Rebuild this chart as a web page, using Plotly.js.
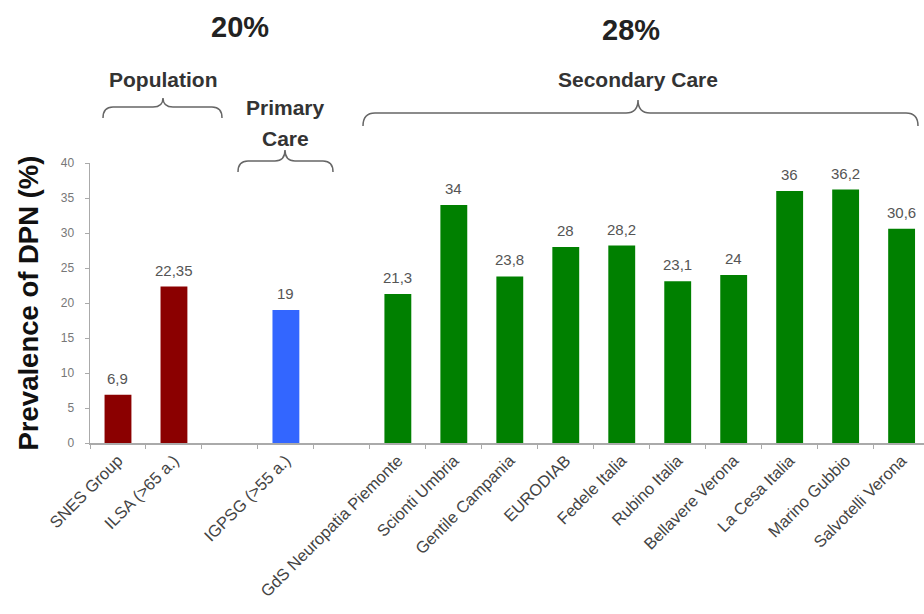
<!DOCTYPE html>
<html>
<head>
<meta charset="utf-8">
<script src="https://cdn.plot.ly/plotly-3.0.1.min.js"></script>
<style>html,body{margin:0;padding:0;background:#fff;}</style>
</head>
<body>
<div id="chart" style="width:924px;height:614px;"></div>
<script>
// ---- data ----
const categories = ['SNES Group', 'ILSA (>65 a.)', 'IGPSG (>55 a.)', 'GdS Neuropatia Piemonte',
  'Scionti Umbria', 'Gentile Campania', 'EURODIAB', 'Fedele Italia', 'Rubino Italia',
  'Bellavere Verona', 'La Cesa Italia', 'Marino Gubbio', 'Salvotelli Verona'];
const values = [6.9, 22.35, 19, 21.3, 34, 23.8, 28, 28.2, 23.1, 24, 36, 36.2, 30.6];
const groups = ['Population', 'Population', 'Primary Care', 'Secondary Care', 'Secondary Care',
  'Secondary Care', 'Secondary Care', 'Secondary Care', 'Secondary Care', 'Secondary Care',
  'Secondary Care', 'Secondary Care', 'Secondary Care'];
const groupPercent = {'Population+Primary': '20%', 'Secondary Care': '28%'};
// axis order (blank slots separate the groups)
const axisOrder = ['SNES Group', 'ILSA (>65 a.)', ' ', 'IGPSG (>55 a.)', '  ', 'GdS Neuropatia Piemonte',
  'Scionti Umbria', 'Gentile Campania', 'EURODIAB', 'Fedele Italia', 'Rubino Italia',
  'Bellavere Verona', 'La Cesa Italia', 'Marino Gubbio', 'Salvotelli Verona'];

// ---- styles ----
const groupColors = {'Population': '#8b0000', 'Primary Care': '#3366ff', 'Secondary Care': '#008000'};
const W = 924, H = 614, ML = 90, MR = 0, MT = 163, MB = 171;
const FONT = 'Liberation Sans, Arial, sans-serif';
const px = x => (x - ML) / (W - ML - MR);
const py = y => (H - MB - y) / (H - MT - MB);

function brace(x0, x1, xc, yEnd, yMid, yPeak, r) {
  const P = (x, y) => px(x).toFixed(5) + ',' + py(y).toFixed(5);
  return 'M' + P(x0, yEnd) + ' Q' + P(x0, yMid) + ' ' + P(x0 + r, yMid) +
    ' L' + P(xc - r, yMid) + ' Q' + P(xc, yMid) + ' ' + P(xc, yPeak) +
    ' Q' + P(xc, yMid) + ' ' + P(xc + r, yMid) +
    ' L' + P(x1 - r, yMid) + ' Q' + P(x1, yMid) + ' ' + P(x1, yEnd);
}
const braceLine = {color: '#666', width: 1.5};
const shapes = [
  {type: 'path', xref: 'paper', yref: 'paper', path: brace(103, 222, 163, 118, 107, 98, 10), line: braceLine},
  {type: 'path', xref: 'paper', yref: 'paper', path: brace(238, 333, 285, 172, 161, 150, 10), line: braceLine},
  {type: 'path', xref: 'paper', yref: 'paper', path: brace(363, 918, 638, 126, 113, 100, 12), line: braceLine}
];
function ann(text, x, y, size, color) {
  return {text: text, xref: 'paper', yref: 'paper', x: px(x), y: py(y), xanchor: 'center', yanchor: 'middle',
    showarrow: false, font: {family: FONT, size: size, color: color}};
}
const annotations = [
  ann('<b>' + groupPercent['Population+Primary'] + '</b>', 240, 27, 29, '#222'),
  ann('<b>' + groupPercent['Secondary Care'] + '</b>', 631, 30, 29, '#222'),
  ann('<b>Population</b>', 163, 80, 21, '#333'),
  ann('<b>Primary</b>', 285, 107, 21, '#333'),
  ann('<b>Care</b>', 285, 138, 21, '#333'),
  ann('<b>Secondary Care</b>', 638, 80, 21, '#333')
];
// value labels above bars (decimal comma)
categories.forEach((c, i) => {
  annotations.push({text: String(values[i]).replace('.', ','), xref: 'x', yref: 'y', x: c, y: values[i],
    xanchor: 'center', yanchor: 'bottom', yshift: 6, showarrow: false,
    font: {family: FONT, size: 15, color: '#555'}});
});

const trace = {
  type: 'bar',
  x: categories,
  y: values,
  width: 0.48,
  marker: {color: groups.map(g => groupColors[g])},
  hoverinfo: 'x+y'
};

const layout = {
  width: W, height: H,
  margin: {l: ML, r: MR, t: MT, b: MB},
  paper_bgcolor: '#fff', plot_bgcolor: '#fff',
  showlegend: false,
  xaxis: {
    type: 'category', categoryorder: 'array', categoryarray: axisOrder,
    range: [-0.5, 14.4],
    showline: true, linecolor: '#aaa', linewidth: 1.5,
    ticks: 'outside', tickson: 'boundaries', ticklen: 4, tickcolor: '#aaa',
    tickangle: -45, tickfont: {family: FONT, size: 16.5, color: '#444'},
    showgrid: false, zeroline: false, automargin: false
  },
  yaxis: {
    range: [0, 40], dtick: 5,
    showline: true, linecolor: '#aaa', linewidth: 1.5,
    ticks: 'outside', ticklen: 4, tickcolor: '#aaa', ticklabelstandoff: 8,
    tickfont: {family: FONT, size: 12, color: '#777'},
    showgrid: false, zeroline: false, automargin: false,
    title: {text: '<b>Prevalence of DPN (%)</b>', font: {family: FONT, size: 27.5, color: '#111'}, standoff: 14}
  },
  shapes: shapes,
  annotations: annotations
};

Plotly.newPlot('chart', [trace], layout, {displayModeBar: false, staticPlot: true});
</script>
</body>
</html>
